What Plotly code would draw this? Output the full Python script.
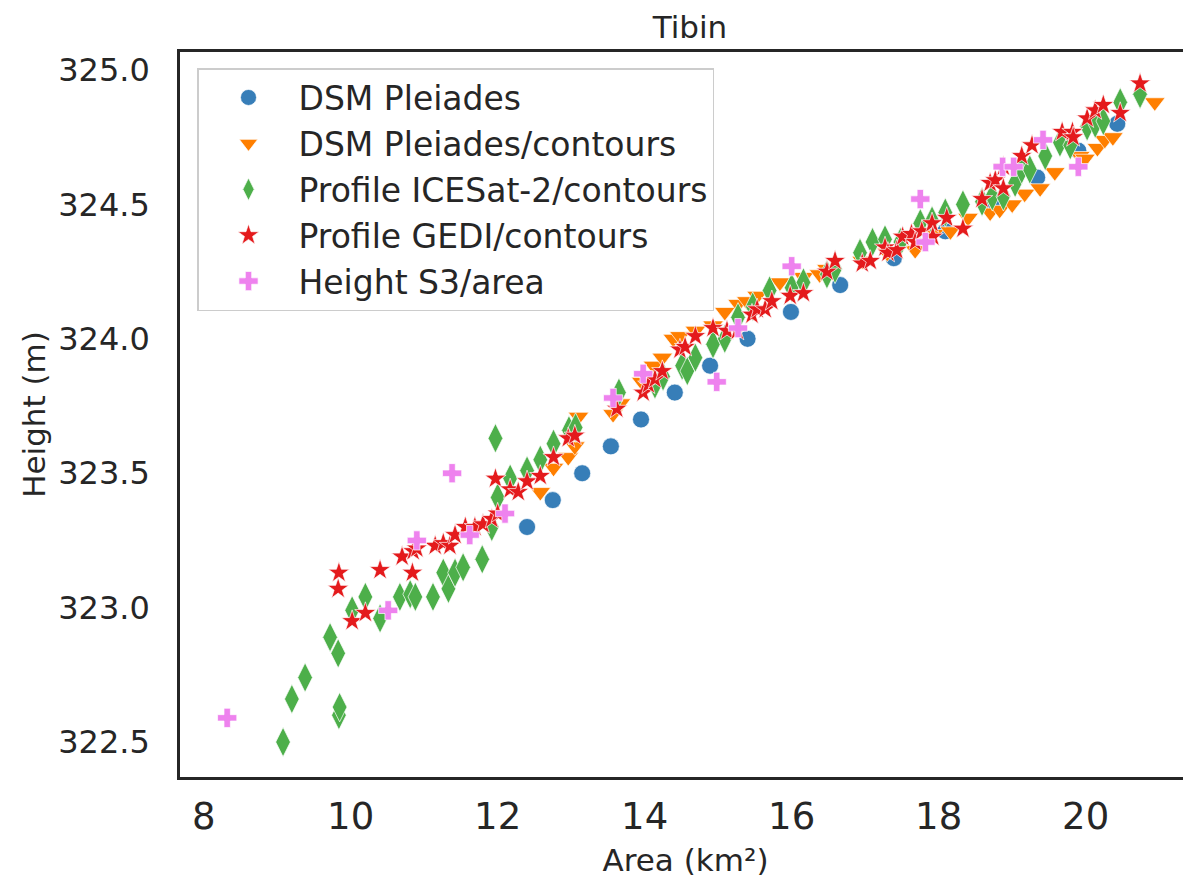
import plotly.graph_objects as go

# ---------------- data ----------------
dsm_area = [12.40, 12.75, 13.15, 13.54, 13.95, 14.41, 14.89, 15.40, 15.99, 16.66,
            17.39, 18.09, 18.72, 19.34, 19.90, 20.43]
dsm_height = [323.3, 323.4, 323.5, 323.6, 323.7, 323.8, 323.9, 324.0, 324.1, 324.2,
              324.3, 324.4, 324.5, 324.6, 324.7, 324.8]

dsmc_area = [12.58, 12.76, 12.96, 13.05, 13.10, 13.57, 13.67, 13.96, 14.12, 14.24,
             14.39, 14.48, 14.69, 14.93, 15.09, 15.27, 15.39, 15.53, 15.84, 16.16,
             16.38, 16.48, 16.96, 17.30, 17.68, 17.93, 18.16, 18.40, 18.70, 18.83,
             19.00, 19.17, 19.38, 19.58, 19.92, 19.99, 20.16, 20.26, 20.37, 20.94]
dsmc_height = [323.43, 323.52, 323.56, 323.60, 323.71, 323.72, 323.76, 323.84, 323.90, 323.93,
               324.00, 324.01, 324.03, 324.05, 324.10, 324.13, 324.14, 324.16, 324.21, 324.23,
               324.24, 324.26, 324.29, 324.32, 324.33, 324.39, 324.40, 324.45, 324.47, 324.48,
               324.50, 324.54, 324.56, 324.62, 324.68, 324.67, 324.71, 324.74, 324.75, 324.88]

ice_area = [9.08, 9.20, 9.38, 9.72, 9.83, 9.84, 9.85, 10.02, 10.20, 10.40,
            10.67, 10.81, 10.88, 11.12, 11.26, 11.33, 11.42, 11.53, 11.79, 11.92,
            11.97, 12.00, 12.17, 12.40, 12.58, 12.76, 12.97, 13.06, 13.65, 14.14,
            14.25, 14.51, 14.58, 14.69, 14.93, 15.09, 15.27, 15.47, 15.70, 16.00,
            16.16, 16.48, 16.59, 16.93, 17.10, 17.27, 17.48, 17.75, 17.91, 18.09,
            18.33, 18.59, 18.73, 18.88, 19.04, 19.13, 19.24, 19.45, 19.65, 19.79,
            20.02, 20.13, 20.24, 20.47, 20.74]
ice_height = [322.50, 322.66, 322.74, 322.89, 322.83, 322.60, 322.63, 322.99, 323.04, 322.96,
              323.04, 323.05, 323.04, 323.04, 323.13, 323.07, 323.13, 323.15, 323.18, 323.30,
              323.63, 323.41, 323.48, 323.51, 323.55, 323.61, 323.66, 323.67, 323.80, 323.83,
              323.86, 323.90, 323.88, 323.93, 323.98, 324.00, 324.08, 324.12, 324.18, 324.19,
              324.21, 324.24, 324.26, 324.32, 324.36, 324.37, 324.36, 324.43, 324.44, 324.47,
              324.50, 324.51, 324.53, 324.53, 324.58, 324.63, 324.63, 324.68, 324.73, 324.72,
              324.79, 324.80, 324.81, 324.88, 324.91]

gedi_area = [9.83, 9.84, 10.02, 10.20, 10.40, 10.70, 10.84, 10.85, 10.90, 11.15,
             11.26, 11.35, 11.42, 11.56, 11.69, 11.80, 11.92, 11.97, 12.00, 12.17,
             12.28, 12.40, 12.58, 12.76, 12.96, 13.05, 13.62, 13.98, 14.05, 14.14,
             14.24, 14.48, 14.55, 14.69, 14.93, 15.12, 15.26, 15.46, 15.53, 15.64,
             15.73, 15.98, 16.16, 16.48, 16.59, 16.96, 17.07, 17.27, 17.31, 17.43,
             17.51, 17.63, 17.68, 17.77, 17.91, 17.92, 18.11, 18.33, 18.59, 18.70,
             18.77, 18.88, 18.88, 19.13, 19.27, 19.68, 19.82, 19.83, 20.02, 20.13,
             20.24, 20.47, 20.74]
gedi_height = [323.07, 323.13, 322.95, 322.98, 323.14, 323.19, 323.13, 323.21, 323.22, 323.23,
               323.24, 323.23, 323.27, 323.30, 323.30, 323.31, 323.33, 323.48, 323.35, 323.44,
               323.43, 323.47, 323.49, 323.56, 323.63, 323.64, 323.74, 323.80, 323.83, 323.85,
               323.88, 323.96, 323.97, 324.01, 324.04, 324.03, 324.03, 324.09, 324.11, 324.11,
               324.14, 324.16, 324.17, 324.25, 324.29, 324.28, 324.29, 324.34, 324.32, 324.33,
               324.38, 324.39, 324.36, 324.40, 324.43, 324.38, 324.45, 324.41, 324.52, 324.58,
               324.59, 324.56, 324.64, 324.68, 324.72, 324.77, 324.77, 324.75, 324.82, 324.85,
               324.87, 324.84, 324.95]

s3_area = [8.32, 10.51, 10.90, 11.38, 11.62, 12.10, 13.57, 13.98, 14.98, 15.27,
           16.00, 17.75, 17.82, 18.87, 19.02, 19.42, 19.90]
s3_height = [322.59, 322.99, 323.25, 323.50, 323.27, 323.35, 323.78, 323.87, 323.84, 324.04,
             324.27, 324.52, 324.36, 324.64, 324.64, 324.74, 324.64]

series = [
    ("DSM Pleiades", dsm_area, dsm_height, "circle", "#377eb8", 17),
    ("DSM Pleiades/contours", dsmc_area, dsmc_height, "triangle-down", "#ff7f00", 18),
    ("Profile ICESat-2/contours", ice_area, ice_height, "diamond-tall", "#4daf4a", 21),
    ("Profile GEDI/contours", gedi_area, gedi_height, "star", "#e41a1c", 16),
    ("Height S3/area", s3_area, s3_height, "cross", "#ee82ee", 16),
]

FONT = "DejaVu Sans"
TXT = "#262626"

# the page body adds an 8 px offset, compensated in the margins below
fig = go.Figure()
for name, xs, ys, sym, col, sz in series:
    fig.add_trace(go.Scatter(
        x=xs, y=ys, mode="markers", name=name,
        marker=dict(symbol=sym, color=col, size=sz,
                    line=dict(color="white", width=0.7)),
    ))

fig.update_layout(
    width=1191, height=881,
    margin=dict(l=172, r=8, t=44, b=112, autoexpand=False),
    paper_bgcolor="white", plot_bgcolor="white",
    font=dict(family=FONT, color=TXT),
    title=dict(text="Tibin", x=(682 / 1191), xanchor="center",
               y=1 - 19 / 881, yanchor="middle",
               font=dict(size=31, family=FONT, color=TXT)),
    showlegend=True,
    legend=dict(
        x=(197 - 180) / 1011, y=(777 - 68) / 725,
        xanchor="left", yanchor="top",
        bgcolor="white", bordercolor="#cccccc", borderwidth=1.5,
        font=dict(size=33, family=FONT, color=TXT),
        itemwidth=90,
    ),
)

fig.update_xaxes(
    range=[7.678, 21.433], tickvals=[8, 10, 12, 14, 16, 18, 20],
    ticktext=["8", "10", "12", "14", "16", "18", "20"],
    showgrid=False, zeroline=False, automargin=False,
    showline=True, mirror=True, linecolor=TXT, linewidth=2.5,
    ticks="", ticklabelstandoff=5,
    tickfont=dict(size=37, family=FONT, color=TXT),
    title=dict(text="Area (km²)", font=dict(size=31, family=FONT, color=TXT), standoff=13),
)
fig.update_yaxes(
    range=[322.370, 325.067], tickvals=[322.5, 323.0, 323.5, 324.0, 324.5, 325.0],
    ticktext=["322.5", "323.0", "323.5", "324.0", "324.5", "325.0"],
    showgrid=False, zeroline=False, automargin=False,
    showline=True, mirror=False, linecolor=TXT, linewidth=2.5,
    ticks="", ticklabelstandoff=21,
    tickfont=dict(size=32, family=FONT, color=TXT),
    title=dict(text="Height (m)", font=dict(size=31, family=FONT, color=TXT), standoff=4),
)

fig.write_html("out.html")
